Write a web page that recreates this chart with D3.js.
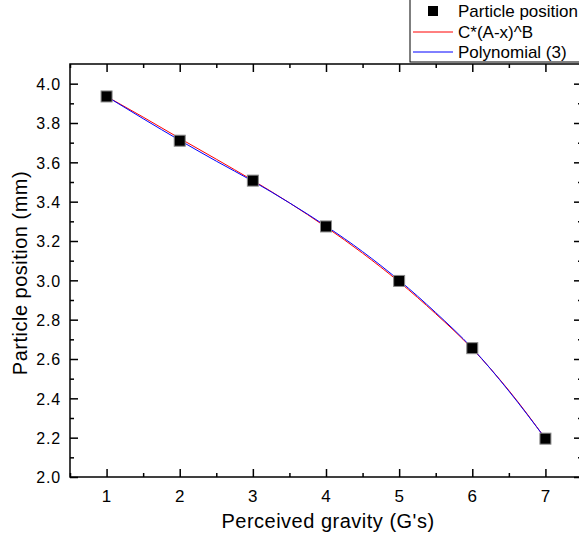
<!DOCTYPE html>
<html>
<head>
<meta charset="utf-8">
<script src="https://cdn.jsdelivr.net/npm/d3@7"></script>
<style>
  body { margin: 0; background: #fff; }
  svg { display: block; font-family: "Liberation Sans", Arial, sans-serif; }
</style>
</head>
<body>
<svg id="chart" width="579" height="545"></svg>
<script>
// measured points
var gravity = [1, 2, 3, 4, 5, 6, 7];
var position = [3.935, 3.710, 3.507, 3.274, 2.997, 2.655, 2.195];

// fit curves
var fitX = [1, 1.5, 2, 2.5, 3, 3.5, 4, 4.5, 5, 5.5, 6, 6.5, 7];
var powerFit = [3.935, 3.830, 3.722, 3.616, 3.508, 3.394, 3.271, 3.138, 2.992, 2.830, 2.652, 2.440, 2.195];
var polyFit = [3.935, 3.822, 3.712, 3.606, 3.504, 3.394, 3.276, 3.146, 3.000, 2.836, 2.655, 2.437, 2.195];

var xTicks = [1, 2, 3, 4, 5, 6, 7];
var yTicks = [2.0, 2.2, 2.4, 2.6, 2.8, 3.0, 3.2, 3.4, 3.6, 3.8, 4.0];

var legendLabels = ["Particle position", "C*(A-x)^B", "Polynomial (3)"];

var svg = d3.select("#chart");
var box = { left: 70, right: 582, top: 64, bottom: 477 };

var x = d3.scaleLinear().domain([0.5, 7.5]).range([box.left, box.right]);
var y = d3.scaleLinear().domain([2.0, 4.1]).range([box.bottom, box.top]);

var minorX = d3.range(0.5, 7.51, 0.5).filter(v => !xTicks.includes(v));
var minorY = d3.range(2.1, 4.1, 0.2);

// frame
svg.append("rect")
    .attr("x", box.left).attr("y", box.top)
    .attr("width", box.right - box.left).attr("height", box.bottom - box.top)
    .attr("fill", "none").attr("stroke", "#000").attr("stroke-width", 1.5);

// inward ticks on all four sides
function tickSet(g, scale, major, minor, orient) {
    g.call(orient(scale).tickValues(major).tickSize(-8).tickFormat(""));
    g.selectAll(".domain").remove();
    g.selectAll(".tick line").attr("stroke-width", 1.5);
    g.append("g")
        .call(orient(scale).tickValues(minor).tickSize(-4).tickFormat(""))
        .call(s => s.selectAll(".domain").remove())
        .selectAll(".tick line").attr("stroke-width", 1.5);
}

svg.append("g").attr("transform", "translate(0," + box.bottom + ")")
    .call(g => tickSet(g, x, xTicks, minorX, d3.axisBottom));
svg.append("g").attr("transform", "translate(0," + box.top + ")")
    .call(g => tickSet(g, x, xTicks, minorX, d3.axisTop));
svg.append("g").attr("transform", "translate(" + box.left + ",0)")
    .call(g => tickSet(g, y, yTicks, minorY, d3.axisLeft));
svg.append("g").attr("transform", "translate(" + box.right + ",0)")
    .call(g => tickSet(g, y, yTicks, minorY, d3.axisRight));

// tick labels
svg.append("g").selectAll("text")
    .data(xTicks)
    .enter().append("text")
        .attr("x", d => x(d))
        .attr("y", box.bottom + 25)
        .attr("text-anchor", "middle")
        .style("font-size", "17px")
        .text(d => d);

svg.append("g").selectAll("text")
    .data(yTicks)
    .enter().append("text")
        .attr("x", box.left - 9)
        .attr("y", d => y(d))
        .attr("dy", "0.4em")
        .attr("text-anchor", "end")
        .style("font-size", "16px")
        .style("letter-spacing", "0.8px")
        .text(d => d.toFixed(1));

// axis titles
svg.append("text")
    .attr("x", 328)
    .attr("y", 528)
    .attr("text-anchor", "middle")
    .style("font-size", "20px")
    .style("letter-spacing", "0.5px")
    .text("Perceived gravity (G's)");

svg.append("text")
    .attr("transform", "translate(27,273) rotate(-90)")
    .attr("text-anchor", "middle")
    .style("font-size", "20px")
    .style("letter-spacing", "0.5px")
    .text("Particle position (mm)");

// curves
var line = d3.line()
    .x(d => x(d[0]))
    .y(d => y(d[1]))
    .curve(d3.curveMonotoneX);

svg.append("path")
    .datum(d3.zip(fitX, powerFit))
    .attr("fill", "none").attr("stroke", "#ff0000").attr("stroke-width", 1)
    .attr("d", line);

svg.append("path")
    .datum(d3.zip(fitX, polyFit))
    .attr("fill", "none").attr("stroke", "#0000ff").attr("stroke-width", 1)
    .attr("d", line);

// markers
var size = 11;
svg.append("g").selectAll("rect")
    .data(d3.zip(gravity, position))
    .enter().append("rect")
        .attr("x", d => x(d[0]) - size / 2)
        .attr("y", d => y(d[1]) - size / 2)
        .attr("width", size).attr("height", size)
        .attr("fill", "#000")
        .attr("stroke", "#888").attr("stroke-width", 1);

// legend
var legend = svg.append("g");
legend.append("rect")
    .attr("x", 410).attr("y", -2)
    .attr("width", 200).attr("height", 64)
    .attr("fill", "#fff").attr("stroke", "#000").attr("stroke-width", 1);

var rowY = [11, 32, 52];
legend.append("rect")
    .attr("x", 428).attr("y", rowY[0] - 5)
    .attr("width", 10).attr("height", 10)
    .attr("fill", "#000");
legend.append("line")
    .attr("x1", 413).attr("x2", 453).attr("y1", rowY[1]).attr("y2", rowY[1])
    .attr("stroke", "#ff0000").attr("stroke-width", 1);
legend.append("line")
    .attr("x1", 413).attr("x2", 453).attr("y1", rowY[2]).attr("y2", rowY[2])
    .attr("stroke", "#0000ff").attr("stroke-width", 1);

legend.selectAll("text")
    .data(legendLabels)
    .enter().append("text")
        .attr("x", 458)
        .attr("y", (d, i) => rowY[i])
        .attr("dy", "0.35em")
        .style("font-size", "17px")
        .text(d => d);
</script>
</body>
</html>
